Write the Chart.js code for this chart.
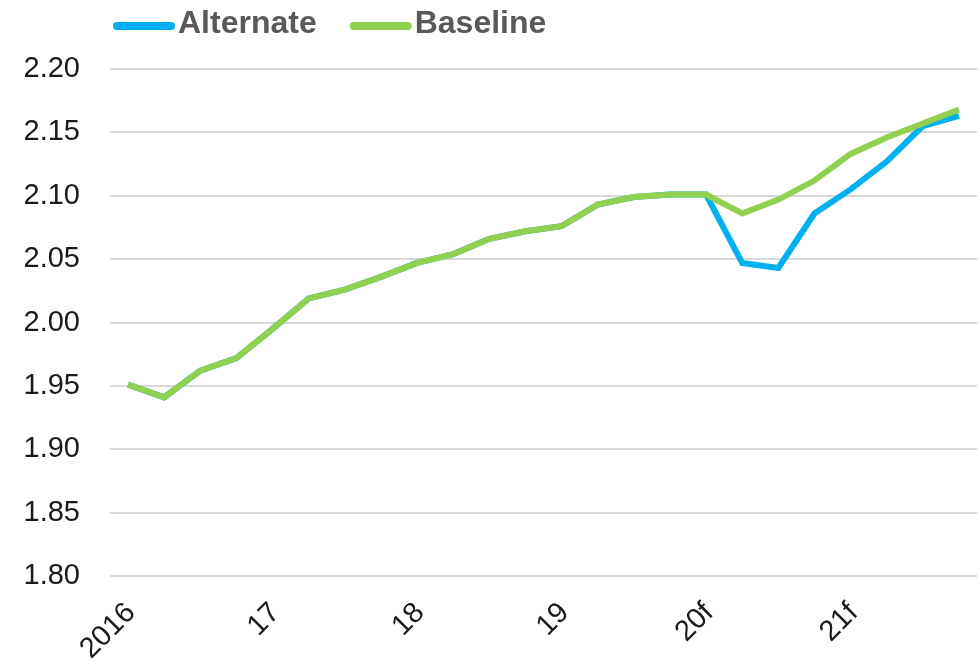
<!DOCTYPE html>
<html>
<head>
<meta charset="utf-8">
<script src="https://cdn.jsdelivr.net/npm/chart.js@4/dist/chart.umd.min.js"></script>
<style>
  html, body { margin: 0; padding: 0; background: #ffffff; }
  #wrap { width: 980px; height: 666px; }
</style>
</head>
<body>
<div id="wrap"><canvas id="chart" width="980" height="666"></canvas></div>
<script>
// Quarterly periods, 2016 Q1 – 2021 Q4 (2020–21 forecast)
const quarters = [
  '2016Q1', '2016Q2', '2016Q3', '2016Q4',
  '2017Q1', '2017Q2', '2017Q3', '2017Q4',
  '2018Q1', '2018Q2', '2018Q3', '2018Q4',
  '2019Q1', '2019Q2', '2019Q3', '2019Q4',
  '2020Q1', '2020Q2', '2020Q3', '2020Q4',
  '2021Q1', '2021Q2', '2021Q3', '2021Q4'
];

// Axis labels shown under each quarter (one per year)
const tickLabels = [
  '2016', '', '', '',
  '17', '', '', '',
  '18', '', '', '',
  '19', '', '', '',
  '20f', '', '', '',
  '21f', '', '', ''
];

const alternate = [
  1.951, 1.941, 1.962, 1.972,
  1.995, 2.019, 2.026, 2.036,
  2.047, 2.054, 2.066, 2.072,
  2.076, 2.093, 2.099, 2.101,
  2.101, 2.047, 2.043, 2.086,
  2.105, 2.127, 2.155, 2.163
];

const baseline = [
  1.951, 1.941, 1.962, 1.972,
  1.995, 2.019, 2.026, 2.036,
  2.047, 2.054, 2.066, 2.072,
  2.076, 2.093, 2.099, 2.101,
  2.101, 2.086, 2.097, 2.112,
  2.133, 2.146, 2.157, 2.168
];

const BLUE = '#00b0f0';
const GREEN = '#92d050';
const TICK_FONT = { family: '"Liberation Sans", Arial, sans-serif', size: 29 };

// Legend drawn across the top: rounded line swatch followed by bold label
const topLegend = {
  id: 'topLegend',
  afterDraw(chart) {
    const ctx = chart.ctx;
    const legendOrder = [0, 1];
    let x = 113;
    const cy = 26;
    ctx.save();
    ctx.font = 'bold 32px "Liberation Sans", Arial, sans-serif';
    ctx.textBaseline = 'middle';
    legendOrder.forEach(i => {
      const ds = chart.data.datasets[i];
      ctx.strokeStyle = ds.borderColor;
      ctx.lineWidth = 8;
      ctx.lineCap = 'round';
      ctx.beginPath();
      ctx.moveTo(x + 4, cy);
      ctx.lineTo(x + 58, cy);
      ctx.stroke();
      x += 65;
      ctx.fillStyle = '#595959';
      ctx.fillText(ds.label, x, cy - 2);
      x += ctx.measureText(ds.label).width + 33;
    });
    ctx.restore();
  }
};

new Chart(document.getElementById('chart'), {
  type: 'line',
  data: {
    labels: quarters,
    datasets: [
      {
        label: 'Alternate',
        data: alternate,
        borderColor: BLUE,
        backgroundColor: BLUE,
        borderWidth: 6,
        pointRadius: 0,
        tension: 0,
        order: 1
      },
      {
        label: 'Baseline',
        data: baseline,
        borderColor: GREEN,
        backgroundColor: GREEN,
        borderWidth: 6,
        pointRadius: 0,
        tension: 0,
        order: 0
      }
    ]
  },
  options: {
    responsive: false,
    animation: false,
    layout: { padding: { top: 69, left: 10, right: 3, bottom: 0 } },
    plugins: {
      legend: { display: false },
      tooltip: { enabled: false }
    },
    scales: {
      x: {
        offset: true,
        grid: { display: false },
        border: { display: false },
        ticks: {
          autoSkip: false,
          maxRotation: 45,
          minRotation: 45,
          padding: 12,
          labelOffset: 3,
          color: '#1a1a1a',
          font: TICK_FONT,
          callback: (v, i) => tickLabels[i]
        },
        afterFit: s => {
          s.height = 90;
          s.paddingLeft = 0;
          s.paddingRight = 0;
        }
      },
      y: {
        min: 1.8,
        max: 2.2,
        grid: { color: '#d9d9d9', lineWidth: 2, drawTicks: false },
        border: { display: false },
        ticks: {
          stepSize: 0.05,
          padding: 30,
          color: '#1a1a1a',
          font: TICK_FONT,
          callback: v => v.toFixed(2)
        },
        afterFit: s => { s.width = 100; }
      }
    }
  },
  plugins: [topLegend]
});
</script>
</body>
</html>
